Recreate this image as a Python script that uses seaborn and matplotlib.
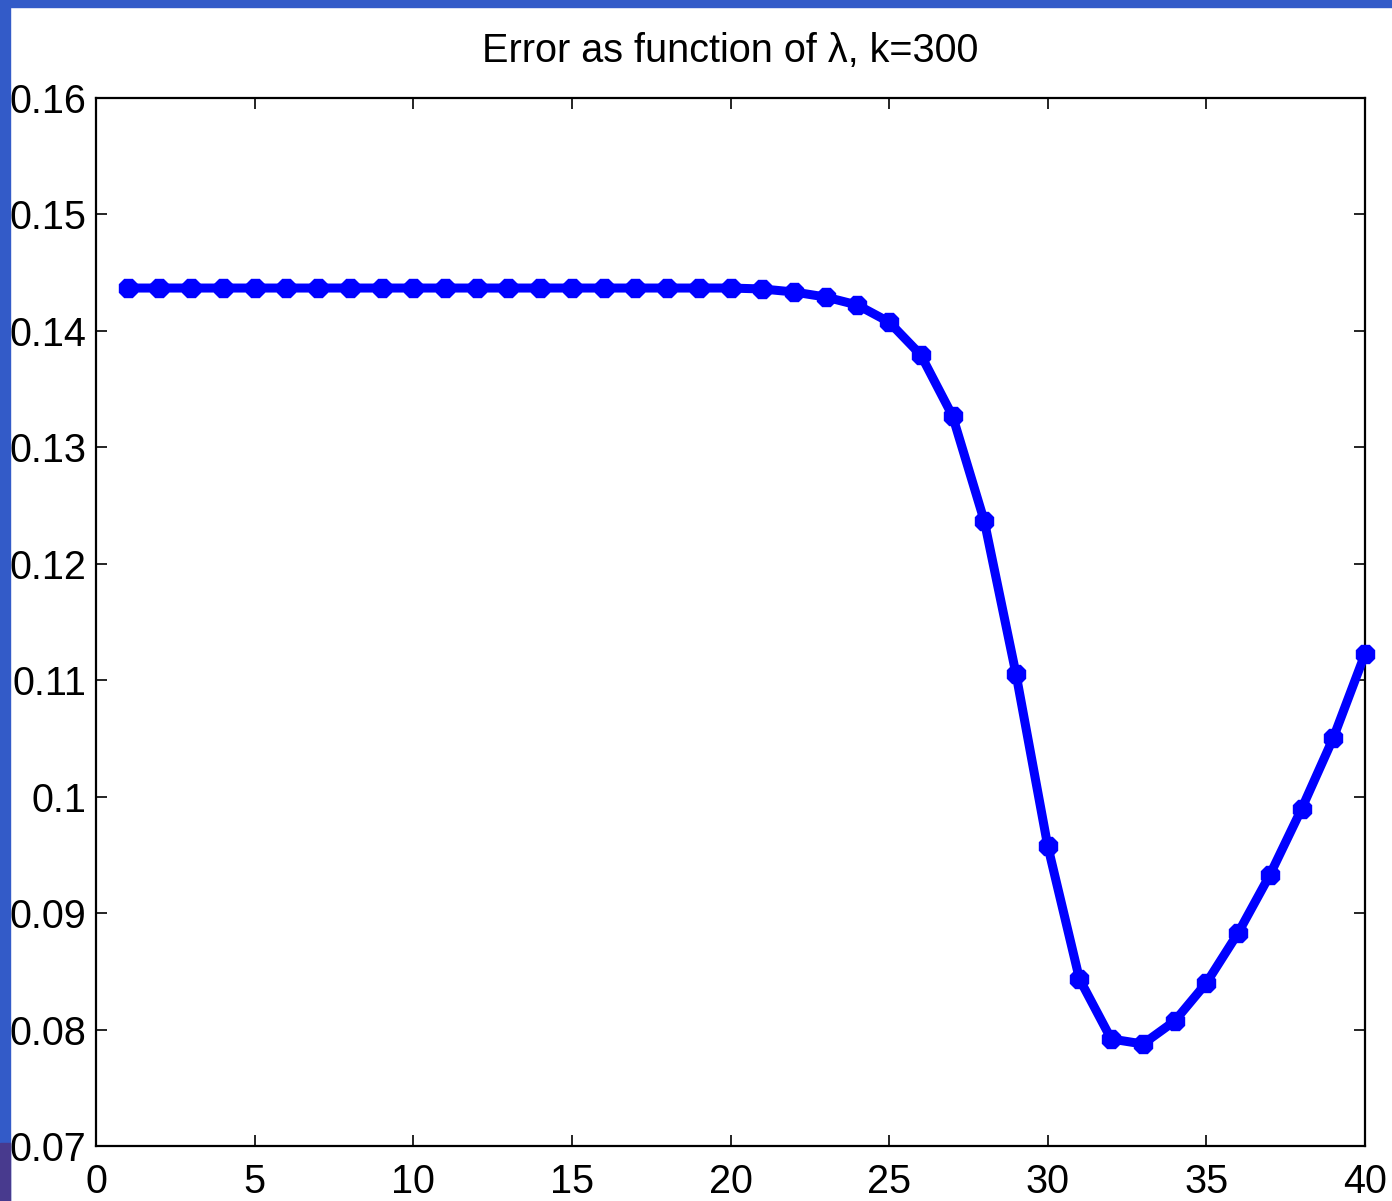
import matplotlib
matplotlib.use("Agg")
import matplotlib.pyplot as plt
import seaborn as sns
import pandas as pd
from matplotlib.patches import Rectangle

lam = list(range(1, 41))
error = [0.14368] * 20 + [0.14360, 0.14334, 0.14291, 0.14222, 0.14076, 0.13793,
                          0.13269, 0.12367, 0.11053, 0.09576, 0.08434, 0.07919,
                          0.07876, 0.08073, 0.08400, 0.08829, 0.09327, 0.09894,
                          0.10504, 0.11225]
xticks = [0, 5, 10, 15, 20, 25, 30, 35, 40]
yticks = [0.07, 0.08, 0.09, 0.10, 0.11, 0.12, 0.13, 0.14, 0.15, 0.16]
ytick_labels = ["0.07", "0.08", "0.09", "0.1", "0.11", "0.12", "0.13", "0.14", "0.15", "0.16"]

sns.set_style("ticks")
plt.rcParams['font.family'] = ['Liberation Sans', 'DejaVu Sans']

fig = plt.figure(figsize=(13.92, 12.01), dpi=100)
fig.patch.set_facecolor("white")
# slide background strips
fig.patches.append(Rectangle((0, 0), 10/1392, 1, transform=fig.transFigure,
                             color="#335BC8", zorder=0))
fig.patches.append(Rectangle((0, 1 - 7/1201), 1, 7/1201, transform=fig.transFigure,
                             color="#335BC8", zorder=0))
fig.patches.append(Rectangle((0, 0), 10/1392, 58/1201, transform=fig.transFigure,
                             color="#483A8E", zorder=0))

ax = fig.add_axes([96/1392, 55/1201, (1365-96)/1392, (1146-98)/1201])
df = pd.DataFrame({"lam": lam, "err": error})
sns.lineplot(data=df, x="lam", y="err", ax=ax, color="#0000FF", linewidth=6.5,
             marker="8", markersize=13.5, markeredgecolor="#0000FF", markeredgewidth=1,
             clip_on=False, zorder=5)

ax.set_xlim(0, 40)
ax.set_ylim(0.07, 0.16)
ax.set_xticks(xticks)
ax.set_xticklabels([str(t) for t in xticks])
ax.set_yticks(yticks)
ax.set_yticklabels(ytick_labels)
ax.set_xlabel("")
ax.set_ylabel("")
ax.tick_params(direction="in", length=8, width=1.2, top=True, right=True,
               labelsize=28.5, colors="black")
ax.tick_params(axis="y", pad=7)
ax.tick_params(axis="x", pad=12)
for s in ax.spines.values():
    s.set_visible(True)
    s.set_linewidth(1.6)
    s.set_color("black")
ax.set_title("Error as function of λ, k=300", fontsize=28.5, pad=26, color="black")

fig.savefig("out.png", dpi=100)
